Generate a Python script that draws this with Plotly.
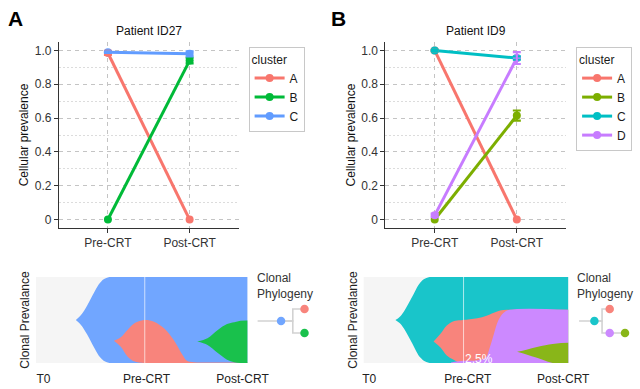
import plotly.graph_objects as go

# ---------------- data ----------------
timepoints = ["Pre-CRT", "Post-CRT"]

# Patient ID27 cellular prevalence (mean, error)
id27_clusters = ["A", "B", "C"]
id27_A = [0.985, 0.0]
id27_A_err = [0.012, 0.0]
id27_B = [0.0, 0.94]
id27_B_err = [0.0, 0.017]
id27_C = [0.99, 0.98]
id27_C_err = [0.005, 0.015]

# Patient ID9 cellular prevalence (mean, error)
id9_clusters = ["A", "B", "C", "D"]
id9_A = [1.0, 0.0]
id9_A_err = [0.004, 0.0]
id9_B = [0.0, 0.615]
id9_B_err = [0.0, 0.03]
id9_C = [1.0, 0.955]
id9_C_err = [0.004, 0.01]
id9_D = [0.025, 0.955]
id9_D_err = [0.01, 0.035]

# Fish plot (clonal prevalence bands, % of height) -- ID27
fish_labels = ["T0", "Pre-CRT", "Post-CRT"]
fish27_C_x = [0.33, 0.38, 0.44, 0.51, 0.57, 0.64, 2.0]
fish27_C_top = [50, 55.8, 67, 82.7, 94, 99.5, 100]
fish27_C_bot = [50, 44.2, 33, 17.3, 6, 0.5, 0]
fish27_A_x = [0.70, 0.767, 0.832, 0.896, 0.993, 1.09, 1.19, 1.28, 1.366, 1.41, 1.48, 2.0]
fish27_A_top = [26, 30, 38.5, 46, 50, 48, 40, 27, 9.6, 2.5, 1.0, 1.0]
fish27_A_bot = [26, 19, 7.7, 2, 0, 0, 0, 0, 0, 0, 0, 0]
fish27_B_x = [1.51, 1.61, 1.71, 1.80, 1.87, 1.93, 2.0]
fish27_B_top = [25, 28.8, 38.5, 45.4, 47.5, 49.2, 49.5]
fish27_B_bot = [25, 21, 11.5, 3.8, 0.8, 0, 0]

# Fish plot -- ID9
fish9_C_x = [0.35, 0.39, 0.43, 0.51, 0.59, 0.66, 2.0]
fish9_C_top = [50, 53.5, 59.6, 77, 94, 99.5, 100]
fish9_C_bot = [50, 46.5, 40.4, 23, 6, 0.5, 0]
fish9_A_x = [0.714, 0.78, 0.84, 0.905, 0.97, 1.0, 1.13, 1.22, 1.32, 1.41, 2.0]
fish9_A_top = [25, 34, 43.6, 48.6, 49.6, 50, 52, 55, 60, 61.8, 61.8]
fish9_A_bot = [25, 18, 8.7, 3.7, 0, 0, 0, 0, 0, 0, 0]
fish9_D_x = [0.88, 1.0, 1.12, 1.21, 1.25, 1.29, 1.33, 1.38, 1.44, 2.0]
fish9_D_top = [0.5, 2.5, 3.0, 6, 18, 34, 49, 58, 61.8, 61.8]
fish9_D_bot = [0, 0, 0, 0, 0, 0, 0, 0, 0, 0]
fish9_B_x = [1.51, 1.60, 1.70, 1.78, 1.85, 1.93, 2.0]
fish9_B_top = [13, 15.5, 18.6, 20.5, 22, 23.3, 23.6]
fish9_B_bot = [13, 10, 6, 2.5, 0, 0, 0]
fish9_D_pre_label = "2.5%"

# Phylogenies
phylo27_nodes = ["C", "A", "B"]
phylo27_parent = [None, "C", "C"]
phylo9_nodes = ["C", "A", "D", "B"]
phylo9_parent = [None, "C", "C", "D"]

# ---------------- styling ----------------
W, H = 640, 389          # reference frame used for positioning
FIG_W = 662              # page width that maps onto the 640 px capture
FONT = "Arial, Liberation Sans, sans-serif"
col3 = {"A": "#F8766D", "B": "#00BA38", "C": "#619CFF"}
col4 = {"A": "#F8766D", "B": "#7CAE00", "C": "#00BFC4", "D": "#C77CFF"}
fish3 = {"A": "#F8847C", "B": "#19C14C", "C": "#71A6FF"}
fish4 = {"A": "#F8847C", "B": "#89B619", "C": "#19C5CA", "D": "#CC89FF"}


def px(x):
    return x / W


def py(y):
    return 1 - y / H


fig = go.Figure()


def add_panel(xa, ya, leg, names, means, errs, colors):
    for n, m in zip(names, means):
        fig.add_trace(go.Scatter(
            x=timepoints, y=m, mode="lines+markers", name=n,
            line=dict(color=colors[n], width=3),
            marker=dict(color=colors[n], size=8),
            xaxis=xa, yaxis=ya, legend=leg, cliponaxis=False))
    for n, m, e in zip(names, means, errs):
        yy = [v if ev > 0 else None for v, ev in zip(m, e)]
        fig.add_trace(go.Scatter(
            x=timepoints, y=yy, mode="markers",
            marker=dict(size=1, color=colors[n], opacity=0),
            error_y=dict(type="data", array=e, color=colors[n], thickness=2.2, width=4),
            xaxis=xa, yaxis=ya, showlegend=False, hoverinfo="skip", cliponaxis=False))


add_panel("x", "y", "legend", id27_clusters,
          [id27_A, id27_B, id27_C], [id27_A_err, id27_B_err, id27_C_err], col3)
add_panel("x2", "y2", "legend2", id9_clusters,
          [id9_A, id9_B, id9_C, id9_D], [id9_A_err, id9_B_err, id9_C_err, id9_D_err], col4)


def add_clone(xa, ya, xs, top, bot, color):
    fig.add_trace(go.Scatter(x=xs, y=bot, mode="lines",
                             line=dict(width=0, shape="spline", color=color),
                             xaxis=xa, yaxis=ya, showlegend=False, hoverinfo="skip"))
    fig.add_trace(go.Scatter(x=xs, y=top, mode="lines",
                             line=dict(width=0, shape="spline", color=color),
                             fill="tonexty", fillcolor=color,
                             xaxis=xa, yaxis=ya, showlegend=False, hoverinfo="skip"))


add_clone("x3", "y3", fish27_C_x, fish27_C_top, fish27_C_bot, fish3["C"])
add_clone("x3", "y3", fish27_A_x, fish27_A_top, fish27_A_bot, fish3["A"])
add_clone("x3", "y3", fish27_B_x, fish27_B_top, fish27_B_bot, fish3["B"])

add_clone("x4", "y4", fish9_C_x, fish9_C_top, fish9_C_bot, fish4["C"])
add_clone("x4", "y4", fish9_A_x, fish9_A_top, fish9_A_bot, fish4["A"])
add_clone("x4", "y4", fish9_D_x, fish9_D_top, fish9_D_bot, fish4["D"])
add_clone("x4", "y4", fish9_B_x, fish9_B_top, fish9_B_bot, fish4["B"])


def tree_layout(nodes, parent):
    children = {n: [c for c, p in zip(nodes, parent) if p == n] for n in nodes}
    root = [n for n, p in zip(nodes, parent) if p is None][0]
    depth, ypos, leaves = {}, {}, []

    def walk(n, d):
        depth[n] = d
        if not children[n]:
            leaves.append(n)
        for c in children[n]:
            walk(c, d + 1)
    walk(root, 1)
    nl = len(leaves)
    for i, lf in enumerate(leaves):
        ypos[lf] = 1 - i / max(nl - 1, 1)

    def sety(n):
        if children[n]:
            ys = [sety(c) for c in children[n]]
            ypos[n] = sum(ys) / len(ys)
        return ypos[n]
    sety(root)
    return root, children, depth, ypos


def add_tree(xa, ya, nodes, parent, colors):
    root, children, depth, ypos = tree_layout(nodes, parent)
    lx, ly = [0, depth[root], None], [ypos[root], ypos[root], None]
    for n in nodes:
        for c in children[n]:
            mid = depth[n] + 0.5
            lx += [depth[n], mid, mid, depth[c], None]
            ly += [ypos[n], ypos[n], ypos[c], ypos[c], None]
    fig.add_trace(go.Scatter(x=lx, y=ly, mode="lines", line=dict(color="#D2D2D2", width=1.6),
                             xaxis=xa, yaxis=ya, showlegend=False, hoverinfo="skip"))
    fig.add_trace(go.Scatter(x=[depth[n] for n in nodes], y=[ypos[n] for n in nodes],
                             mode="markers", marker=dict(size=8.5, color=[colors[n] for n in nodes]),
                             xaxis=xa, yaxis=ya, showlegend=False, hoverinfo="skip", cliponaxis=False))
    return max(depth.values())


md27 = add_tree("x5", "y5", phylo27_nodes, phylo27_parent, fish3)
md9 = add_tree("x6", "y6", phylo9_nodes, phylo9_parent, fish4)

# ---------------- layout ----------------
grid = "#C4C4C4"
minor_grid = "#DCDCDC"
DASH = "4px,4px"


def top_x(dom, anchor):
    return dict(domain=dom, anchor=anchor, type="category", range=[-0.6, 1.6],
                showline=True, linecolor="#333333", linewidth=1,
                ticks="outside", ticklen=4, tickcolor="#333333",
                showgrid=True, gridcolor=grid, griddash=DASH, gridwidth=1,
                zeroline=False, tickfont=dict(size=12, color="#333333"))


def top_y(dom, anchor):
    return dict(domain=dom, anchor=anchor, range=[-0.05, 1.05],
                tickvals=[0, 0.2, 0.4, 0.6, 0.8, 1.0],
                ticktext=["0", "0.2", "0.4", "0.6", "0.8", "1.0"],
                showline=True, linecolor="#333333", linewidth=1,
                ticks="outside", ticklen=4, tickcolor="#333333",
                showgrid=True, gridcolor=grid, griddash=DASH, gridwidth=1,
                minor=dict(tickvals=[0.1, 0.3, 0.5, 0.7, 0.9], showgrid=True,
                           gridcolor=minor_grid, griddash="2px,2px", gridwidth=1, ticks=""),
                zeroline=False, tickfont=dict(size=12, color="#333333"),
                title=dict(text="Cellular prevalence", font=dict(size=12, color="#111111"), standoff=3))


ytop = [py(228), py(42)]
yfish = [py(363), py(277)]


def fish_x(dom, anchor, rng, labpos):
    return dict(domain=dom, anchor=anchor, range=rng, showgrid=False, zeroline=False,
                showline=False, tickvals=labpos, ticktext=fish_labels,
                ticks="outside", ticklen=5, tickcolor="rgba(0,0,0,0)",
                tickfont=dict(size=12, color="#222222"))


def fish_y(dom, anchor):
    return dict(domain=dom, anchor=anchor, range=[0, 100], showgrid=False, zeroline=False,
                showline=False, showticklabels=False, ticks="",
                title=dict(text="Clonal Prevalance", font=dict(size=12, color="#222222"), standoff=2))


def phylo_axes(x0, width, maxd):
    unit = width / maxd
    pad = 0.4
    xd = [px(x0 - pad * unit), px(x0 + (maxd + pad) * unit)]
    yd = [py(333 + 12), py(309 - 12)]
    return (dict(domain=xd, range=[-pad, maxd + pad], visible=False),
            dict(domain=yd, range=[-0.5, 1.5], visible=False))


x5, y5 = phylo_axes(257, 47, md27)
x6, y6 = phylo_axes(579, 46, md9)
x5["anchor"], y5["anchor"] = "y5", "x5"
x6["anchor"], y6["anchor"] = "y6", "x6"

legend_common = dict(xanchor="left", yanchor="top", bgcolor="white",
                     bordercolor="#C8C8C8", borderwidth=1, traceorder="normal",
                     font=dict(size=12, color="#1A1A1A", family=FONT),
                     title=dict(text="cluster", font=dict(size=12)),
                     itemwidth=30, tracegroupgap=0)

annotations = [
    dict(text="<b>A</b>", x=px(15), y=py(18), xref="paper", yref="paper", showarrow=False,
         xanchor="center", yanchor="middle", font=dict(size=21, color="black")),
    dict(text="<b>B</b>", x=px(338), y=py(18), xref="paper", yref="paper", showarrow=False,
         xanchor="center", yanchor="middle", font=dict(size=21, color="black")),
    dict(text="Patient ID27", x=0.5, xref="x domain", y=py(31), yref="paper", showarrow=False,
         xanchor="center", yanchor="middle", font=dict(size=12, color="#111111")),
    dict(text="Patient ID9", x=0.5, xref="x2 domain", y=py(31), yref="paper", showarrow=False,
         xanchor="center", yanchor="middle", font=dict(size=12, color="#111111")),
    dict(text="Clonal<br>Phylogeny", x=px(254), y=py(285.5), xref="paper", yref="paper",
         xanchor="left", yanchor="middle", align="left", showarrow=False,
         font=dict(size=12, color="#333333")),
    dict(text="Clonal<br>Phylogeny", x=px(575), y=py(285.5), xref="paper", yref="paper",
         xanchor="left", yanchor="middle", align="left", showarrow=False,
         font=dict(size=12, color="#333333")),
    dict(text=fish9_D_pre_label, x=1.145, xref="x4", y=py(359), yref="paper", showarrow=False,
         xanchor="center", yanchor="middle", font=dict(size=12, color="white")),
]

shapes = []
for xa, ya in (("x3", "y3"), ("x4", "y4")):
    shapes.append(dict(type="rect", xref=f"{xa} domain", yref=f"{ya} domain", x0=0, x1=1, y0=0, y1=1,
                       fillcolor="#F5F5F5", line=dict(width=0), layer="below"))
    shapes.append(dict(type="line", xref=xa, yref=f"{ya} domain", x0=1, x1=1, y0=0, y1=1,
                       line=dict(color="rgba(255,255,255,0.65)", width=1), layer="above"))

fig.update_layout(
    width=FIG_W, height=H, autosize=False, margin=dict(l=0, r=0, t=0, b=0, pad=0),
    paper_bgcolor="white", plot_bgcolor="white",
    font=dict(family=FONT, size=12, color="#222222"),
    xaxis=top_x([px(58), px(238)], "y"),
    yaxis=top_y(ytop, "x"),
    xaxis2=top_x([px(385), px(566)], "y2"),
    yaxis2=top_y(ytop, "x2"),
    xaxis3=fish_x([px(35), px(247)], "y3", [-0.058, 2.0], [0.015, 1.017, 1.95]),
    yaxis3=fish_y(yfish, "x3"),
    xaxis4=fish_x([px(363.3), px(568.3)], "y4", [0.048, 2.0], [0.10, 1.04, 1.95]),
    yaxis4=fish_y(yfish, "x4"),
    xaxis5=x5, yaxis5=y5, xaxis6=x6, yaxis6=y6,
    legend=dict(x=px(248), y=py(47), **legend_common),
    legend2=dict(x=px(576), y=py(47), **legend_common),
    annotations=annotations, shapes=shapes,
    hovermode=False,
)

css_js = (
    "var s=document.createElement('style');"
    "s.textContent='html,body{margin:0 !important;padding:0 !important;overflow:hidden !important;}';"
    "document.head.appendChild(s);"
)

fig.write_html(
    "out.html",
    config={"responsive": False, "displayModeBar": False},
    post_script=css_js,
)
